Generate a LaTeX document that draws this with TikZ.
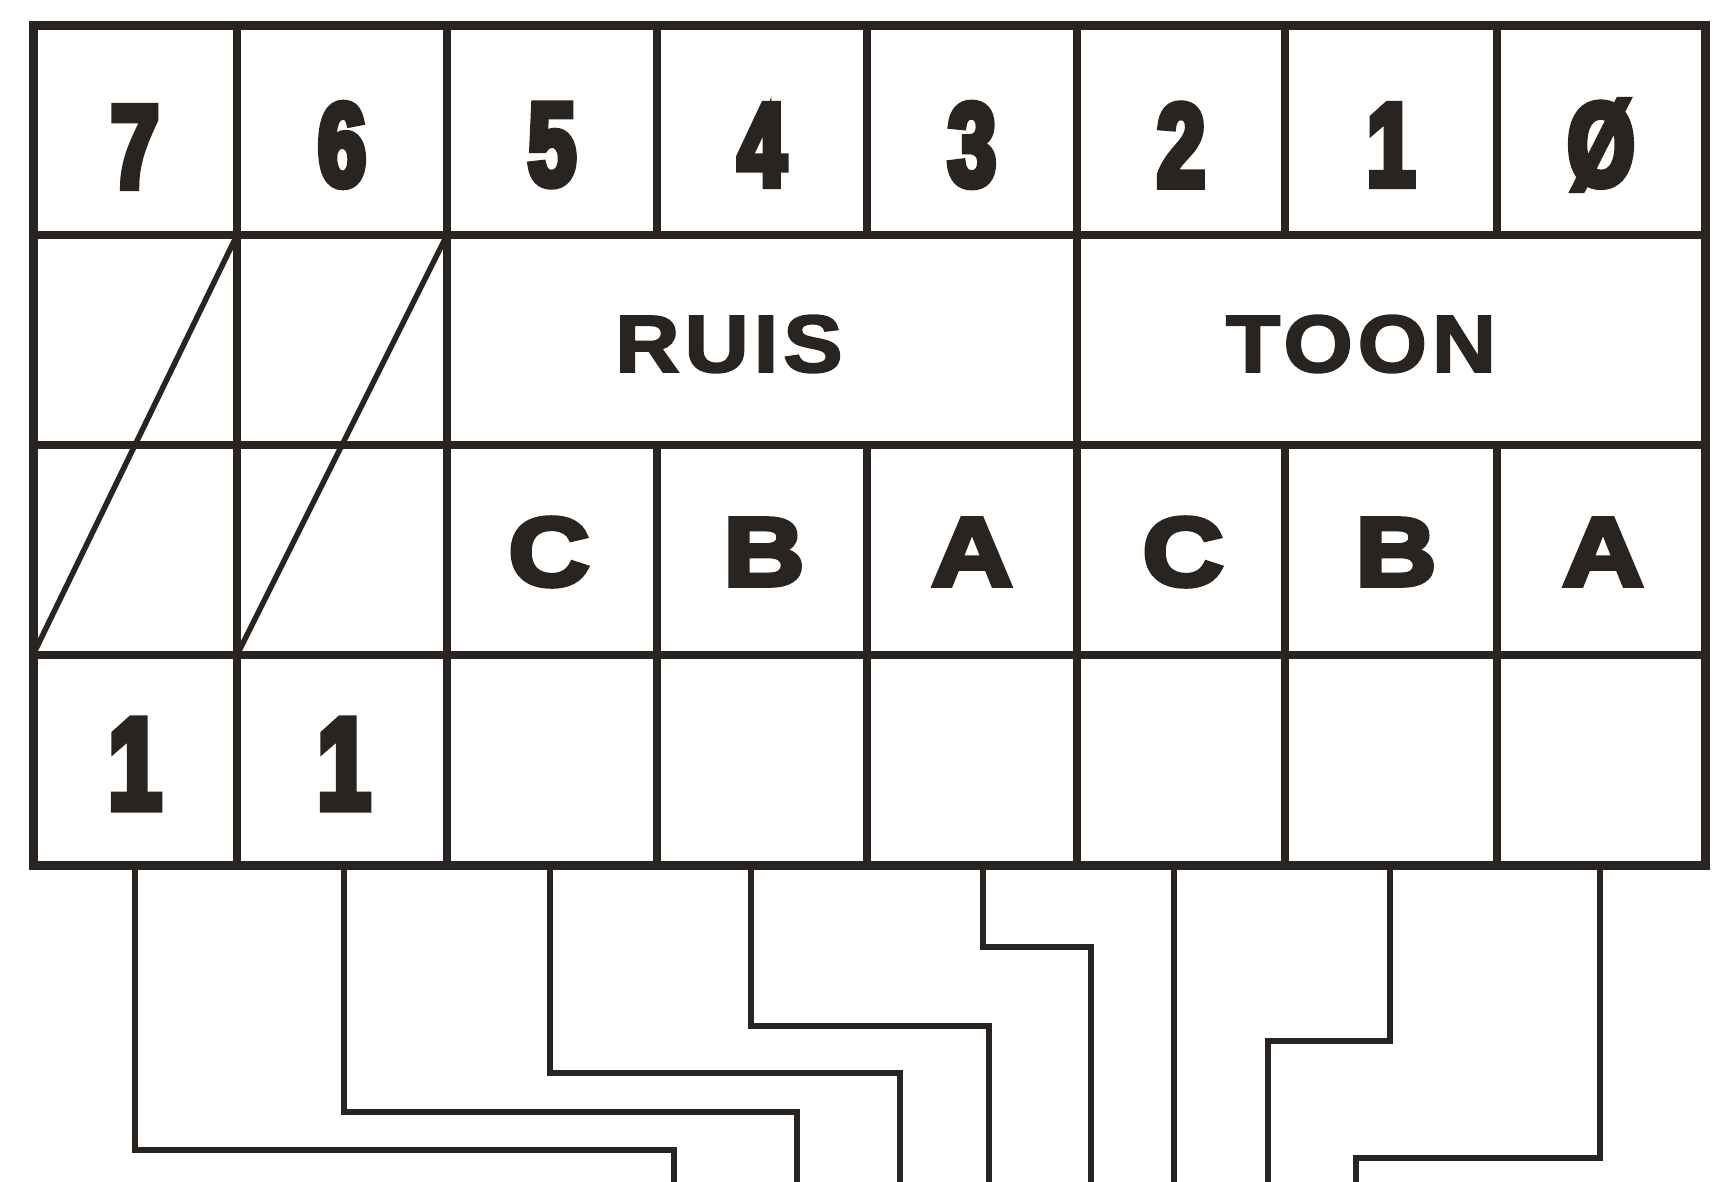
\documentclass[tikz,border=0pt]{standalone}
\usepackage{fontspec}
\setmainfont{Liberation Sans}
\newfontfamily\digitfont[FakeStretch=0.72,FakeBold=6]{Liberation Sans Bold}
\newfontfamily\wordfont[FakeStretch=1.1,LetterSpace=6,FakeBold=2.5]{Liberation Sans Bold}
\newfontfamily\letterfont[FakeStretch=1.16,FakeBold=5]{Liberation Sans Bold}
\definecolor{ink}{RGB}{42,36,33}
\begin{document}
\begin{tikzpicture}[x=1pt,y=-1pt,
  gridline/.style={draw=ink,line width=7.5pt},
  border/.style={draw=ink,line width=9pt,line join=miter},
  wire/.style={draw=ink,line width=6pt,line join=miter},
  digit/.style={inner sep=0pt,text=ink,font=\digitfont\fontsize{118}{118}\selectfont},
  bigdigit/.style={inner sep=0pt,text=ink,font=\digitfont\fontsize{130}{130}\selectfont},
  word/.style={inner sep=0pt,text=ink,font=\wordfont\fontsize{81}{81}\selectfont},
  letter/.style={inner sep=0pt,text=ink,font=\letterfont\fontsize{97}{97}\selectfont}]
\useasboundingbox (0,0) rectangle (1732,1181);
\fill[white] (0,0) rectangle (1732,1181);
% grid lines
\foreach \y in {235,445,655} \draw[gridline] (33,\y) -- (1705,\y);
\foreach \x in {237,447,1077} \draw[gridline] (\x,25) -- (\x,865);
\foreach \x in {657,867,1285,1497} {
  \draw[gridline] (\x,25) -- (\x,235);
  \draw[gridline] (\x,445) -- (\x,865);
}
\draw[gridline,line width=5.5pt] (237,235) -- (33,655);
\draw[gridline,line width=5.5pt] (447,235) -- (237,655);
\draw[border] (33,25) rectangle (1705,865);
% bit numbers
\node[digit] (n7) at (135,147) {7};
\node[digit] (n6) at (342,145) {6};
\node[digit] (n5) at (552,145) {5};
\node[digit] (n4) at (762,145) {4};
\node[digit] (n3) at (972,145) {3};
\node[digit] (n2) at (1181,145) {2};
\node[digit] (n1) at (1391,145) {1};
\node[digit] (n0) at (1601,145) {Ø};
% group labels
\node[word] (ruis) at (729,344) {RUIS};
\node[word] (toon) at (1361,344) {TOON};
% channel letters
\node[letter] (c1) at (549,552) {C};
\node[letter] (b1) at (764,552) {B};
\node[letter] (a1) at (972,552) {A};
\node[letter] (c2) at (1183,552) {C};
\node[letter] (b2) at (1396,552) {B};
\node[letter] (a2) at (1603,552) {A};
% values
\node[bigdigit] (v7) at (135,764) {1};
\node[bigdigit] (v6) at (344,764) {1};
% wire endpoints
\foreach \n/\xt/\yh/\xb in {7/135/1150/674, 6/344/1112/797, 5/550/1073/900, 4/751/1026/989,
  3/983/947/1091, 1/1390/1041/1268, 0/1600/1158/1356} {
  \coordinate (t\n) at (\xt,865);
  \coordinate (e\n) at (\xb,1195);
  \draw[wire] (t\n) |- (\xb,\yh) -- (e\n);
}
\coordinate (t2) at (1174,865);
\coordinate (e2) at (1174,1195);
\draw[wire] (t2) -- (e2);
\end{tikzpicture}
\end{document}
